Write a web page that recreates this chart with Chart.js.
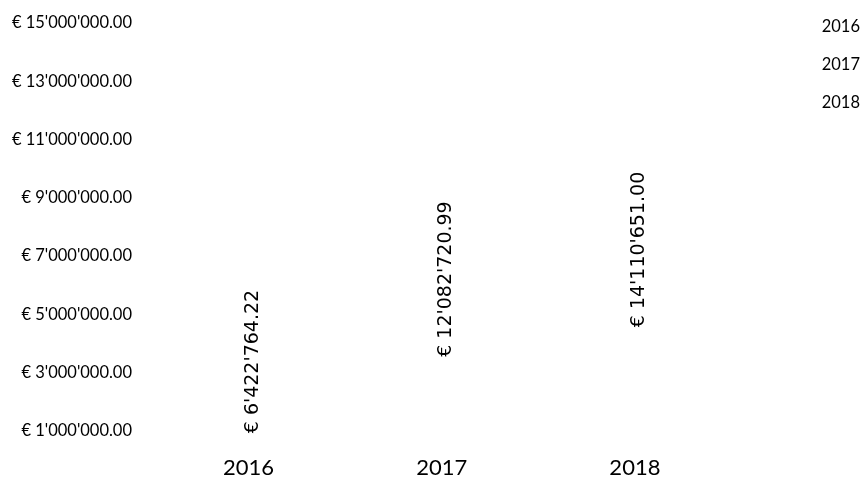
<!DOCTYPE html>
<html>
<head>
<meta charset="utf-8">
<script src="https://cdn.jsdelivr.net/npm/chart.js@4"></script>
<style>
  html, body { margin: 0; padding: 0; background: #fff; }
  #wrap { width: 867px; height: 490px; }
</style>
</head>
<body>
<div id="wrap"><canvas id="barChartCanva"></canvas></div>
<script>
// Data
var years = ['2016', '2017', '2018'];
var totals = [6422764.22, 12082720.99, 14110651.00];
var yMin = 1000000;
var yMax = 15000000;
var yStep = 2000000;

// € 1'234'567.89
function euro(v) {
    var parts = v.toFixed(2).split('.');
    var intPart = parts[0].replace(/\B(?=(\d{3})+(?!\d))/g, "'");
    return '€ ' + intPart + '.' + parts[1];
}

// Rotated value labels, centred in each (invisible) bar
var valueLabels = {
    id: 'valueLabels',
    afterDatasetsDraw: function(chart) {
        var ctx = chart.ctx;
        var meta = chart.getDatasetMeta(0);
        ctx.save();
        ctx.font = '19px "DejaVu Sans"';
        ctx.fillStyle = '#000';
        ctx.textAlign = 'center';
        ctx.textBaseline = 'middle';
        meta.data.forEach(function(bar, i) {
            var mid = (bar.y + bar.base) / 2;
            ctx.save();
            ctx.translate(bar.x + 4, mid - 5);
            ctx.rotate(-Math.PI / 2);
            ctx.fillText(euro(totals[i]), 0, 0);
            ctx.restore();
        });
        ctx.restore();
    }
};

var ctx = document.getElementById('barChartCanva').getContext('2d');

var chart = new Chart(ctx, {
    type: 'bar',
    data: {
        labels: years,
        datasets: [{
            label: 'Total',
            data: totals,
            backgroundColor: 'rgba(0,0,0,0)',
            borderWidth: 0
        }]
    },
    options: {
        responsive: true,
        maintainAspectRatio: false,
        animation: false,
        layout: { padding: { top: 0, left: 0, right: -3, bottom: 0 } },
        plugins: {
            tooltip: { enabled: false },
            legend: {
                position: 'right',
                align: 'start',
                labels: {
                    boxWidth: 66,
                    boxHeight: 22,
                    padding: 16,
                    color: '#000',
                    font: { family: 'Lato', size: 16.5 },
                    generateLabels: function() {
                        return years.map(function(y) {
                            return { text: y, fillStyle: 'rgba(0,0,0,0)', strokeStyle: 'rgba(0,0,0,0)', lineWidth: 0 };
                        });
                    }
                }
            }
        },
        scales: {
            x: {
                grid: { display: false, drawTicks: false },
                border: { display: false },
                ticks: { color: '#000', padding: 24, font: { family: 'Lato', size: 22 } },
                afterFit: function(scale) { scale.height = 59; }
            },
            y: {
                min: yMin,
                max: yMax,
                grid: { display: true, drawOnChartArea: false, drawTicks: true, tickLength: 7, color: 'rgba(0,0,0,0)' },
                border: { display: false },
                ticks: {
                    stepSize: yStep,
                    color: '#000',
                    padding: 13,
                    font: { family: 'Lato', size: 16.5 },
                    callback: function(v) { return euro(v); }
                },
                afterFit: function(scale) { scale.width = 152; }
            }
        }
    },
    plugins: [valueLabels]
});
</script>
</body>
</html>
